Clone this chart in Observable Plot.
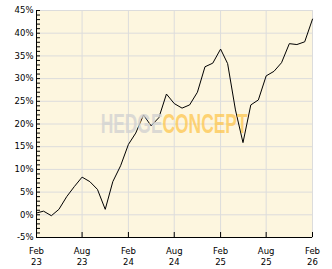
<!DOCTYPE html>
<html><head><meta charset="utf-8">
<script src="https://cdn.jsdelivr.net/npm/d3@7"></script>
<script src="https://cdn.jsdelivr.net/npm/@observablehq/plot@0.6"></script>
<style>body{margin:0;background:#fff}</style>
</head><body><div id="chart"></div>
<script>
const months = ["2023-02","2023-03","2023-04","2023-05","2023-06","2023-07","2023-08","2023-09","2023-10","2023-11","2023-12",
"2024-01","2024-02","2024-03","2024-04","2024-05","2024-06","2024-07","2024-08","2024-09","2024-10","2024-11","2024-12",
"2025-01","2025-02","2025-03","2025-04","2025-05","2025-06","2025-07","2025-08","2025-09","2025-10","2025-11","2025-12",
"2026-01","2026-02"];
const values = [0.4,0.8,-0.2,1.2,4.0,6.2,8.3,7.3,5.6,1.2,7.3,
10.8,15.5,18.0,22.0,19.6,21.4,26.6,24.5,23.5,24.2,27.0,32.6,
33.4,36.5,33.3,23.1,15.9,24.2,25.3,30.6,31.6,33.5,37.7,37.5,
38.1,43.1];
const xTickMonths = ["2023-02","2023-08","2024-02","2024-08","2025-02","2025-08","2026-02"];
const yTicks = [-5,0,5,10,15,20,25,30,35,40,45];
const yMinor = d3.range(-5, 46, 1);
const watermark = ["HEDGE","CONCEPT"];

const parse = d3.utcParse("%Y-%m");
const data = months.map((m,i)=>({date: parse(m), value: values[i]}));
const xDates = xTickMonths.map(parse);
const fmtMonth = d3.utcFormat("%b");
const fmtYear = d3.utcFormat("%y");

const W = 332, H = 269, ML = 36, MR = 20, MT = 10, MB = 32;
const innerW = W - ML - MR, innerH = H - MT - MB;

const plot = Plot.plot({
  width: W, height: H,
  marginLeft: ML, marginRight: MR, marginTop: MT, marginBottom: MB,
  style: {fontFamily: "DejaVu Sans", fontSize: "8.5px", color: "#000", background: "#fff", overflow: "visible"},
  x: {type: "utc", domain: [xDates[0], xDates[xDates.length-1]], label: null, axis: null},
  y: {domain: [yTicks[0], yTicks[yTicks.length-1]], label: null, axis: null},
  marks: [
    Plot.frame({fill: "#fdf6df", stroke: "#d9d9d9"}),
    Plot.gridX(xDates, {stroke: "#dcdcdc", strokeOpacity: 1}),
    Plot.gridY(yTicks, {stroke: "#dcdcdc", strokeOpacity: 1}),
    Plot.line(data, {x: "date", y: "value", stroke: "#000", strokeWidth: 1}),
    Plot.text([watermark[0]], {text: d=>d, frameAnchor: "middle", textAnchor: "end", dx: -12,
      fontSize: 17.4, fontWeight: "bold", fontFamily: "Liberation Sans", fill: "#d2d2d2", fillOpacity: 0.8}),
    Plot.text([watermark[1]], {text: d=>d, frameAnchor: "middle", textAnchor: "start", dx: -12,
      fontSize: 17.4, fontWeight: "bold", fontFamily: "Liberation Sans", fill: "#fdc650", fillOpacity: 0.75}),
    Plot.ruleX([xDates[0]], {stroke: "#000"}),
    Plot.ruleY([yTicks[0]], {stroke: "#000"}),
    Plot.tickY(yMinor, {y: d => d, insetRight: innerW - 4, stroke: "#000", strokeWidth: 1}),
    Plot.tickX(xDates, {x: d => d, insetTop: innerH - 5, stroke: "#000", strokeWidth: 1}),
    Plot.axisY(yTicks, {tickSize: 0, tickPadding: 3, tickFormat: d => d + "%", label: null}),
    Plot.axisX(xDates, {tickSize: 0, tickPadding: 8, lineHeight: 1.33, label: null, tickFormat: d => fmtMonth(d) + "\n" + fmtYear(d)})
  ]
});
document.getElementById("chart").appendChild(plot);
const wm = new Set(watermark);
d3.select(plot).selectAll("text").filter(function(){ return wm.has(this.textContent); })
  .each(function(){
    const t = this.getAttribute("transform") || "";
    this.setAttribute("transform", t + " scale(1,1.6)");
  });
</script>
</body></html>
